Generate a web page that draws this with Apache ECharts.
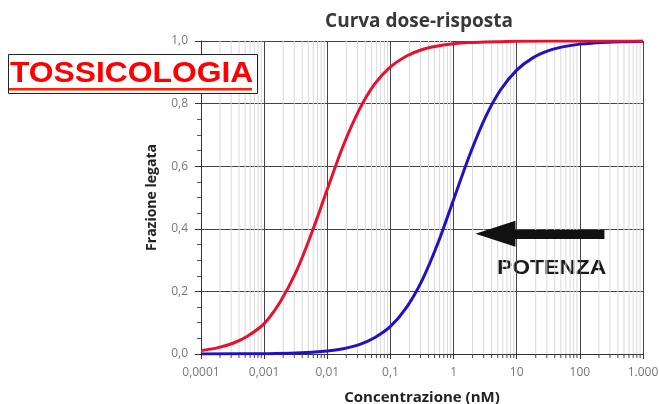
<!DOCTYPE html>
<html><head><meta charset="utf-8">
<script src="https://cdn.jsdelivr.net/npm/echarts@6/dist/echarts.min.js"></script>
<style>html,body{margin:0;padding:0;background:#fff}#c{width:659px;height:404px}</style>
</head><body><div id="c"></div>
<script>
// Data
const redX = [0.0001,0.00018,0.00032,0.00056,0.001,0.0018,0.0032,0.0056,0.01,0.018,0.032,0.056,0.1,0.18,0.32,0.56,1,1.8,3.2,5.6,10,100,1000];
const redY = [0.011,0.0196,0.0343,0.0586,0.097,0.167,0.262,0.384,0.526,0.667,0.78,0.862,0.917,0.952,0.973,0.984,0.991,0.995,0.997,0.998,0.999,1.0,1.0];
const blueX = [0.0001,0.001,0.0032,0.01,0.018,0.032,0.056,0.1,0.18,0.32,0.56,1,1.8,3.2,5.6,10,18,32,56,100,180,320,560,1000];
const blueY = [0.0001,0.001,0.003,0.0096,0.017,0.03,0.052,0.088,0.149,0.237,0.352,0.493,0.636,0.757,0.845,0.907,0.946,0.969,0.982,0.99,0.994,0.997,0.998,0.999];
const xTickLabels = {'0.0001':'0,0001','0.001':'0,001','0.01':'0,01','0.1':'0,1','1':'1','10':'10','100':'100','1000':'1.000'};
const decades = [0.0001,0.001,0.01,0.1,1,10,100];
const minorSteps = [2,3,4,5,6,7,8,9];
const minorGridValues = [];
decades.forEach(d=>minorSteps.forEach(k=>minorGridValues.push(+(d*k).toPrecision(3))));
const arrowFrom = [245, 0.384];
const arrowTo = [4.6, 0.384];

const chart = echarts.init(document.getElementById('c'));
chart.setOption({
  backgroundColor:'#fff',
  animation:false,
  title:{text:'Curva dose-risposta',left:414,top:7,textAlign:'center',
    textStyle:{fontFamily:'Open Sans',fontWeight:'bold',fontSize:19,color:'#383838'}},
  grid:{left:201,right:16,top:41,bottom:50,outerBoundsMode:'none',containLabel:false},
  xAxis:{type:'log',logBase:10,min:0.0001,max:1000,
    name:'Concentrazione (nM)',nameLocation:'middle',nameGap:36,
    nameTextStyle:{fontFamily:'Open Sans',fontWeight:'bold',fontSize:15,color:'#222'},
    axisLine:{lineStyle:{color:'#333',width:1}},
    axisTick:{show:true,length:5,lineStyle:{color:'#333'}},
    axisLabel:{fontFamily:'Open Sans',fontSize:12,color:'#777',margin:13,
      formatter:v=>xTickLabels[String(+v.toPrecision(3))]||''},
    splitLine:{show:true,lineStyle:{color:'#444',width:1}}},
  yAxis:{type:'value',min:0,max:1,interval:0.2,
    name:'Frazione legata',nameLocation:'middle',nameGap:42,
    nameTextStyle:{fontFamily:'Open Sans',fontWeight:'bold',fontSize:14,color:'#222'},
    axisLine:{show:true,lineStyle:{color:'#333'}},
    axisTick:{show:true,length:6,lineStyle:{color:'#333'}},
    minorTick:{show:true,splitNumber:4,length:4,lineStyle:{color:'#555'}},
    axisLabel:{fontFamily:'Open Sans',fontSize:12,color:'#777',margin:13,
      formatter:v=>v.toFixed(1).replace('.',',')},
    splitLine:{show:true,lineStyle:{color:'#444',width:1}}},
  series:[
    {type:'custom',silent:true,z:1,
      data:minorGridValues.map(v=>[v]),
      renderItem:(params,api)=>{
        const v=api.value(0);
        const p0=api.coord([v,0]), p1=api.coord([v,1]);
        return {type:'group',children:[
          {type:'line',shape:{x1:p0[0],y1:p0[1],x2:p1[0],y2:p1[1]},style:{stroke:'#d9d9d9',lineWidth:1}},
          {type:'line',shape:{x1:p0[0],y1:p0[1],x2:p0[0],y2:p0[1]+4},style:{stroke:'#444',lineWidth:1}}
        ]};
      }},
    {type:'line',data:blueX.map((x,i)=>[x,blueY[i]]),smooth:0.35,showSymbol:false,z:3,
      lineStyle:{color:'#1e12c4',width:3}},
    {type:'line',data:redX.map((x,i)=>[x,redY[i]]),smooth:0.35,showSymbol:false,z:4,
      lineStyle:{color:'#e8102e',width:3},
      markLine:{silent:true,symbol:['none','triangle'],symbolSize:[26,40],
        lineStyle:{color:'#111',width:9,type:'solid',opacity:1},label:{show:false},
        itemStyle:{color:'#111'},
        data:[[{coord:arrowFrom},{coord:arrowTo}]]}}
  ],
  graphic:[
    {type:'text',x:497,y:268.5,scaleX:1.09,style:{text:'POTENZA',fontFamily:'Liberation Sans',fontWeight:'bold',fontSize:21,fill:'#1a1a1a',verticalAlign:'middle'}},
    {type:'rect',shape:{x:8.5,y:54.5,width:249,height:39},style:{fill:'#fff',stroke:'#222',lineWidth:1},z:10},
    {type:'text',x:10,y:74,z:11,scaleX:1.06,style:{text:'TOSSICOLOGIA',fontFamily:'Liberation Sans',fontWeight:'bold',fontSize:30,fill:'#ff0000',verticalAlign:'middle'}},
    {type:'rect',shape:{x:9,y:88,width:243,height:2.5},style:{fill:'#ff2200'},z:11}
  ]
});
</script></body></html>
